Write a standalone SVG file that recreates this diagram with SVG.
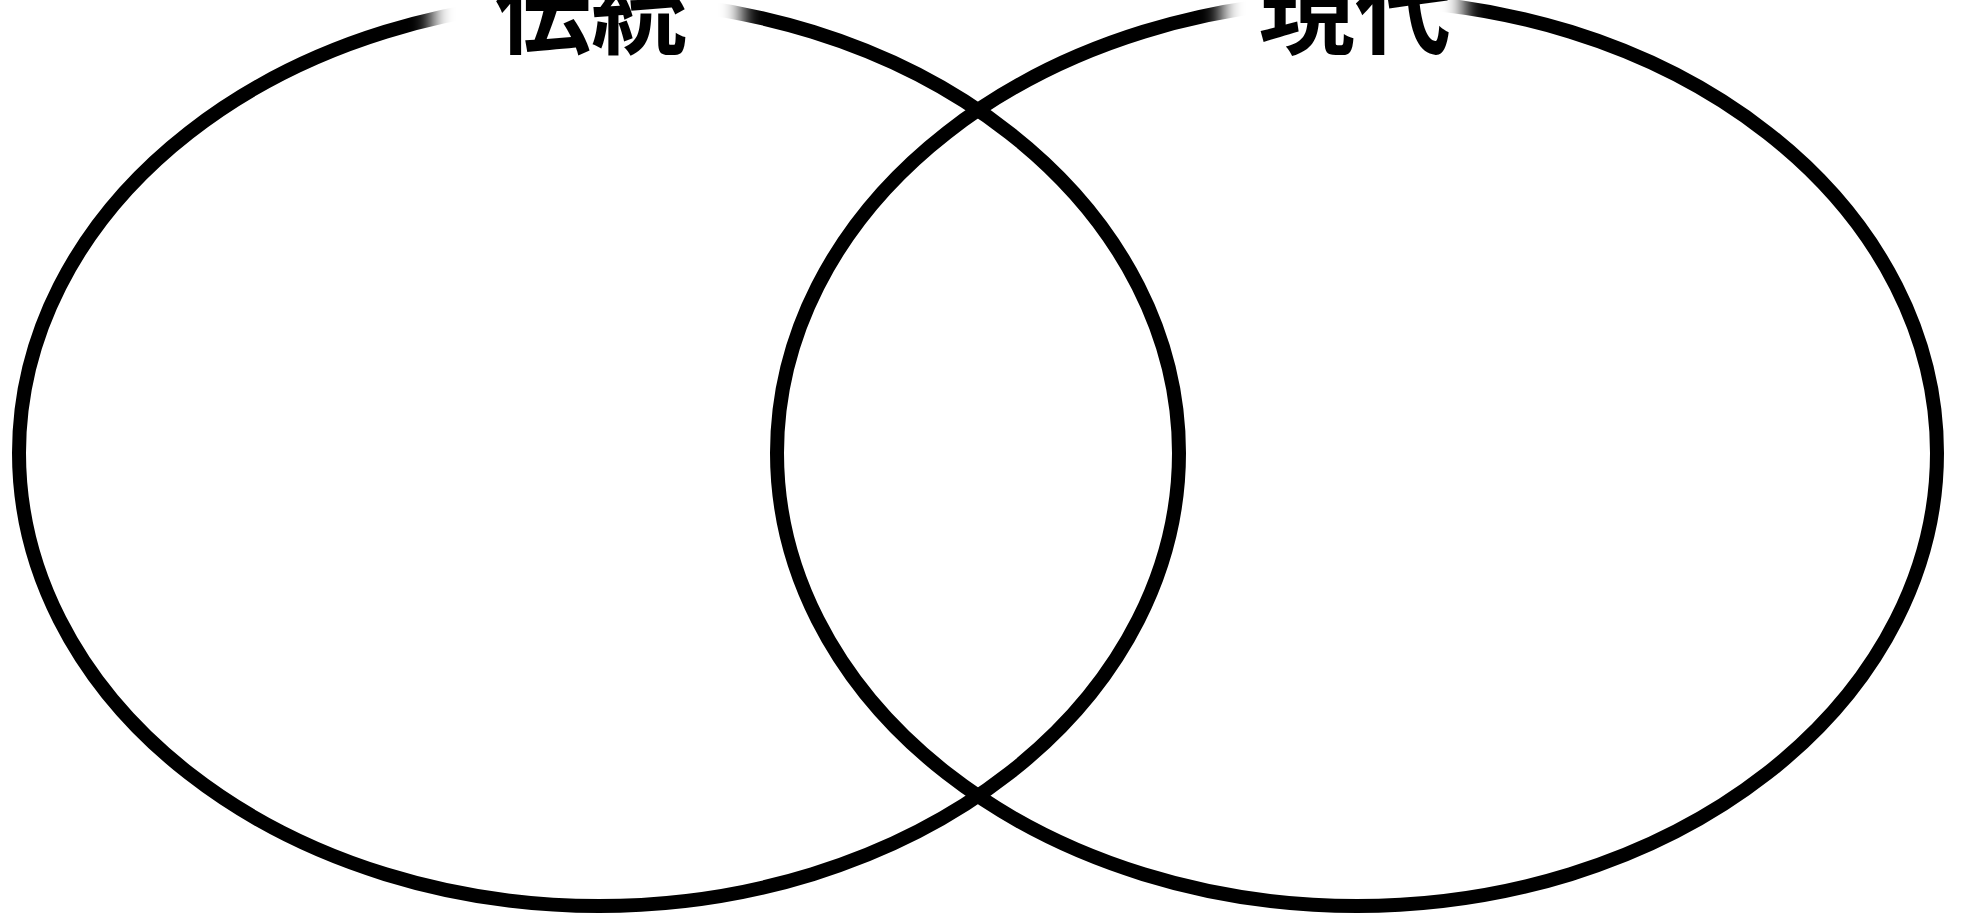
<svg xmlns="http://www.w3.org/2000/svg" width="1962" height="920" viewBox="0 0 1962 920">
  <style>
    .ring { fill: none; stroke: #000; stroke-width: 14; }
    .label { font-family: "Noto Sans CJK JP", "Noto Sans CJK SC", sans-serif; font-weight: 700; font-size: 96px; fill: #000; text-anchor: middle; }
    .halo { fill: #fff; filter: url(#soft); }
  </style>
  <defs>
    <filter id="soft" x="-20%" y="-50%" width="140%" height="200%">
      <feGaussianBlur stdDeviation="10"/>
    </filter>
  </defs>
  <rect width="1962" height="920" fill="#fff"/>
  <g id="set-tradition">
    <ellipse class="ring" cx="599" cy="453" rx="580" ry="453"/>
  </g>
  <g id="set-modern">
    <ellipse class="ring" cx="1357" cy="453" rx="580" ry="453"/>
  </g>
  <g id="label-tradition">
    <rect class="halo" x="432" y="-60" width="310" height="120"/>
    <text class="label" x="591" y="46">伝統</text>
  </g>
  <g id="label-modern">
    <rect class="halo" x="1222" y="-60" width="242" height="120"/>
    <text class="label" x="1355" y="46">現代</text>
  </g>
  <g id="connectors"></g>
</svg>
